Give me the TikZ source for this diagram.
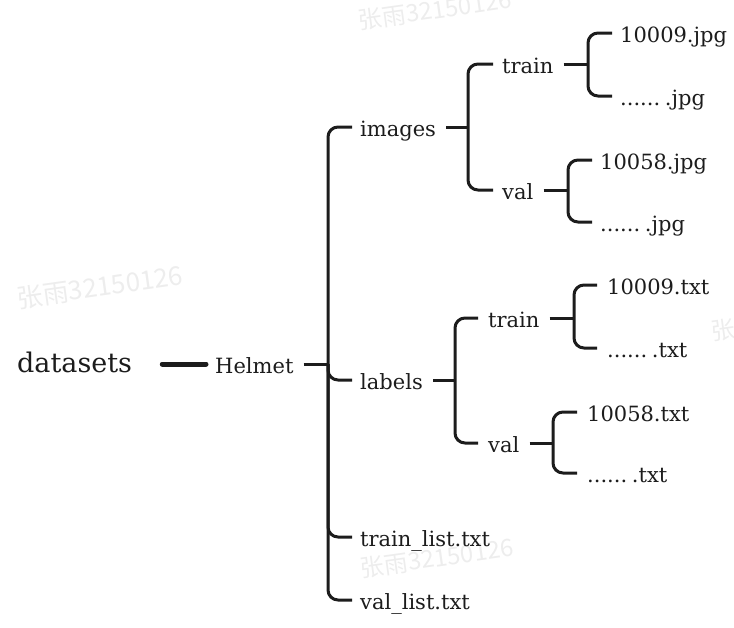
\documentclass[tikz,border=0pt]{standalone}
\usepackage{fontspec}
\setmainfont{DejaVu Serif}
\newfontfamily\cjk{Noto Sans CJK SC}
\definecolor{ink}{HTML}{1C1C1C}
\definecolor{wm}{HTML}{EDEDED}
\begin{document}
\begin{tikzpicture}[x=1pt,y=-1pt,
  lbl/.style={anchor=west, inner sep=0pt, text=ink, font=\fontsize{21}{21}\selectfont, text height=20pt, text depth=2pt},
  big/.style={anchor=west, inner sep=0pt, text=ink, font=\fontsize{27}{27}\selectfont, text height=22pt, text depth=6pt},
  br/.style={draw=ink, line width=3pt, rounded corners=10pt},
  stub/.style={draw=ink, line width=3pt},
  wmk/.style={text=wm, font=\cjk\fontsize{24}{24}\selectfont, rotate=8, inner sep=0pt}]
\useasboundingbox (0,0) rectangle (734,627);

% watermarks
\node[wmk] (wm1) at (435,10) {张雨32150126};
\node[wmk, font=\cjk\fontsize{26}{26}\selectfont] (wm2) at (100,287) {张雨32150126};
\node[wmk] (wm3) at (437,558) {张雨32150126};
\node[wmk, anchor=west] (wm4) at (711,332) {张雨};

% nodes
\node[big] (datasets) at (17,364) {datasets};
\node[lbl] (helmet) at (215,364) {Helmet};

\node[lbl] (images) at (360,127) {images};
\node[lbl] (labels) at (360,380) {labels};
\node[lbl] (trainlist) at (360,537) {train\_list.txt};
\node[lbl] (vallist) at (360,600) {val\_list.txt};

\node[lbl] (itrain) at (502,64) {train};
\node[lbl] (ival) at (502,190) {val};
\node[lbl] (ltrain) at (488,318) {train};
\node[lbl] (lval) at (488,443) {val};

\node[lbl] (itA) at (620,33) {10009.jpg};
\node[lbl] (itB) at (620,96) {......\hspace{0.22em}.jpg};
\node[lbl] (ivA) at (600,160) {10058.jpg};
\node[lbl] (ivB) at (600,222) {......\hspace{0.22em}.jpg};
\node[lbl] (ltA) at (607,285) {10009.txt};
\node[lbl] (ltB) at (607,348) {......\hspace{0.22em}.txt};
\node[lbl] (lvA) at (587,412) {10058.txt};
\node[lbl] (lvB) at (587,473) {......\hspace{0.22em}.txt};

% datasets -> Helmet
\draw[draw=ink, line width=5pt, line cap=round] ([xshift=30pt]datasets.east) -- ([xshift=-9pt]helmet.west);

% Helmet bracket
\coordinate (hj) at (328,364);
\draw[stub] ([xshift=10pt]helmet.east) -- (hj);
\draw[br] ([xshift=-8pt]images.west) -| (hj) |- ([xshift=-8pt]vallist.west);
\draw[br] (hj) |- ([xshift=-8pt]labels.west);
\draw[br] (hj) |- ([xshift=-8pt]trainlist.west);

% images bracket
\coordinate (ij) at (468,127);
\draw[stub] ([xshift=10pt]images.east) -- (ij);
\draw[br] ([xshift=-9pt]itrain.west) -| (ij) |- ([xshift=-9pt]ival.west);

% images/train
\coordinate (itj) at (588,64);
\draw[stub] ([xshift=10pt]itrain.east) -- (itj);
\draw[br] ([xshift=-8pt]itA.west) -| (itj) |- ([xshift=-8pt]itB.west);

% images/val
\coordinate (ivj) at (568,190);
\draw[stub] ([xshift=10pt]ival.east) -- (ivj);
\draw[br] ([xshift=-8pt]ivA.west) -| (ivj) |- ([xshift=-8pt]ivB.west);

% labels bracket
\coordinate (lj) at (455,380);
\draw[stub] ([xshift=10pt]labels.east) -- (lj);
\draw[br] ([xshift=-10pt]ltrain.west) -| (lj) |- ([xshift=-10pt]lval.west);

% labels/train
\coordinate (ltj) at (574,318);
\draw[stub] ([xshift=10pt]ltrain.east) -- (ltj);
\draw[br] ([xshift=-10pt]ltA.west) -| (ltj) |- ([xshift=-10pt]ltB.west);

% labels/val
\coordinate (lvj) at (553,443);
\draw[stub] ([xshift=10pt]lval.east) -- (lvj);
\draw[br] ([xshift=-10pt]lvA.west) -| (lvj) |- ([xshift=-10pt]lvB.west);
\end{tikzpicture}
\end{document}
